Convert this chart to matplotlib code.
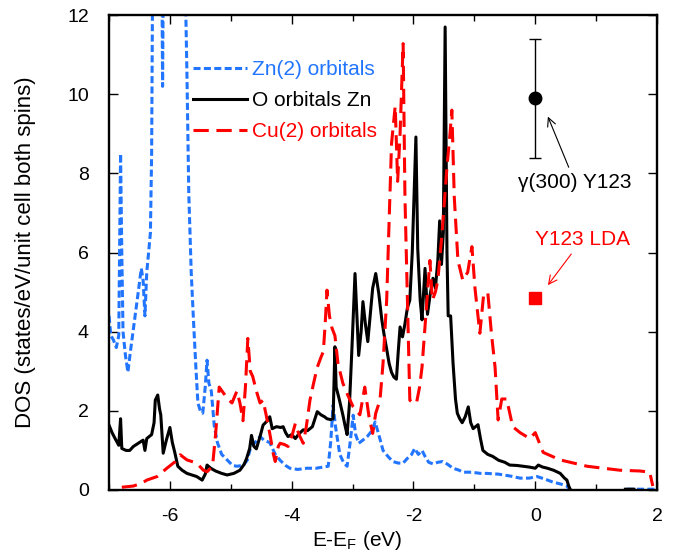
import numpy as np
from matplotlib import pyplot as plt
from matplotlib.ticker import MultipleLocator

plt.rcParams['font.family'] = ['Liberation Sans', 'DejaVu Sans']
plt.rcParams['mathtext.fontset'] = 'custom'
plt.rcParams['mathtext.rm'] = 'Liberation Sans'
plt.rcParams['mathtext.it'] = 'Liberation Sans:italic'
plt.rcParams['axes.unicode_minus'] = False

# Zn(2) orbitals (blue, short dashes)
e_zn = [-7.00, -6.97, -6.93, -6.88, -6.84, -6.82, -6.81, -6.79, -6.77, -6.73,
        -6.69, -6.64, -6.58, -6.52, -6.47, -6.44, -6.41, -6.38, -6.35, -6.32,
        -6.30, -6.28, -6.20, -6.14, -6.12, -6.10, -6.00, -5.80, -5.75, -5.72,
        -5.69, -5.65, -5.61, -5.57, -5.54, -5.50, -5.46, -5.42, -5.39, -5.36,
        -5.32, -5.27, -5.22, -5.15, -5.06, -4.97, -4.90, -4.80, -4.73, -4.67,
        -4.60, -4.52, -4.45, -4.36, -4.27, -4.19, -4.10, -4.03, -3.90, -3.75,
        -3.60, -3.48, -3.40, -3.36, -3.32, -3.28, -3.21, -3.15, -3.09, -3.04,
        -2.99, -2.95, -2.90, -2.84, -2.76, -2.68, -2.63, -2.57, -2.50, -2.42,
        -2.34, -2.25, -2.17, -2.10, -2.03, -1.98, -1.92, -1.86, -1.81, -1.75,
        -1.68, -1.60, -1.52, -1.45, -1.35, -1.25, -1.19, -1.05, -0.90, -0.80,
        -0.60, -0.40, -0.25, -0.10, 0.03, 0.15, 0.29, 0.42, 0.52, 0.57,
        0.60, 1.50, 2.00]
dos_zn = [4.40, 3.90, 3.80, 3.60, 3.90, 7.00, 8.50, 6.00, 4.00, 3.40,
          2.98, 3.60, 4.30, 5.00, 5.60, 5.30, 4.40, 5.50, 6.00, 6.50,
          8.50, 14.0, 16.0, 15.0, 10.2, 15.0, 16.0, 16.0, 13.0, 10.5,
          7.50, 5.50, 4.20, 3.00, 2.20, 2.00, 1.94, 2.60, 3.28, 2.70,
          2.50, 1.60, 1.20, 0.90, 0.76, 0.62, 0.60, 0.62, 0.75, 1.10,
          1.20, 1.35, 1.25, 1.20, 0.90, 0.75, 0.62, 0.55, 0.52, 0.55,
          0.55, 0.58, 0.60, 1.20, 2.14, 1.60, 0.90, 0.70, 0.60, 1.20,
          1.89, 1.40, 1.18, 1.25, 1.35, 1.50, 1.72, 1.40, 1.00, 0.85,
          0.72, 0.68, 0.68, 0.80, 0.90, 1.05, 0.90, 1.00, 0.85, 0.70,
          0.66, 0.70, 0.72, 0.66, 0.55, 0.50, 0.45, 0.45, 0.42, 0.42,
          0.40, 0.35, 0.30, 0.30, 0.34, 0.28, 0.20, 0.15, 0.10, 0.00,
          np.nan, 0.02, 0.02]

# O orbitals Zn (black, solid)
e_o = [-7.00, -6.95, -6.90, -6.84, -6.81, -6.79, -6.72, -6.66, -6.60, -6.54,
       -6.48, -6.44, -6.41, -6.38, -6.34, -6.30, -6.26, -6.24, -6.20, -6.17,
       -6.15, -6.11, -6.06, -6.00, -5.96, -5.92, -5.87, -5.80, -5.72, -5.64,
       -5.56, -5.50, -5.47, -5.42, -5.39, -5.33, -5.25, -5.15, -5.06, -4.95,
       -4.85, -4.78, -4.74, -4.69, -4.66, -4.62, -4.58, -4.52, -4.47, -4.40,
       -4.36, -4.32, -4.25, -4.18, -4.14, -4.10, -4.06, -4.00, -3.94, -3.88,
       -3.81, -3.74, -3.66, -3.58, -3.52, -3.46, -3.42, -3.36, -3.32, -3.29,
       -3.27, -3.22, -3.16, -3.12, -3.09, -3.05, -3.01, -2.96, -2.90, -2.86,
       -2.83, -2.79, -2.75, -2.70, -2.67, -2.62, -2.57, -2.52, -2.48, -2.44,
       -2.40, -2.36, -2.32, -2.28, -2.25, -2.22, -2.18, -2.14, -2.10, -2.06,
       -2.02, -1.99, -1.96, -1.93, -1.89, -1.86, -1.81, -1.77, -1.73, -1.68,
       -1.64, -1.60, -1.57, -1.54, -1.51, -1.48, -1.45, -1.43, -1.39, -1.35,
       -1.31, -1.28, -1.24, -1.20, -1.15, -1.10, -1.06, -1.02, -0.98, -0.94,
       -0.90, -0.86, -0.78, -0.70, -0.60, -0.50, -0.42, -0.30, -0.20, -0.10,
       0.00, 0.05, 0.12, 0.20, 0.30, 0.41, 0.48, 0.52, 0.55, 0.58,
       0.60, 1.48, 1.62]
dos_o = [1.64, 1.45, 1.30, 1.13, 1.80, 1.05, 1.00, 1.00, 1.10, 1.16,
         1.22, 1.26, 1.00, 1.30, 1.35, 1.40, 1.70, 2.27, 2.40, 2.05,
         1.90, 0.93, 1.25, 1.58, 1.20, 0.95, 0.60, 0.50, 0.42, 0.38,
         0.34, 0.28, 0.25, 0.40, 0.63, 0.55, 0.48, 0.42, 0.38, 0.42,
         0.50, 0.65, 0.80, 1.05, 1.38, 1.10, 1.04, 1.35, 1.64, 1.75,
         1.85, 1.55, 1.60, 1.58, 1.60, 1.45, 1.35, 1.40, 1.30, 1.42,
         1.52, 1.50, 1.60, 1.98, 1.90, 1.85, 1.80, 1.78, 1.80, 3.62,
         2.60, 2.30, 1.90, 1.60, 1.40, 2.20, 3.60, 5.47, 3.40, 4.00,
         4.76, 4.20, 3.75, 4.60, 5.10, 5.47, 4.97, 4.30, 3.90, 3.56,
         3.20, 2.97, 2.85, 2.80, 3.50, 4.12, 3.87, 4.20, 4.60, 4.80,
         6.00, 7.50, 8.92, 6.10, 4.80, 4.30, 5.60, 4.44, 4.90, 5.35,
         5.10, 5.80, 6.80, 5.70, 6.50, 11.70, 6.00, 4.40, 4.40, 3.20,
         2.30, 1.94, 1.80, 1.70, 1.85, 2.10, 1.70, 1.55, 1.60, 1.65,
         1.30, 1.00, 0.90, 0.85, 0.75, 0.70, 0.63, 0.62, 0.60, 0.58,
         0.55, 0.63, 0.58, 0.55, 0.50, 0.42, 0.30, 0.25, 0.10, 0.00,
         np.nan, 0.02, 0.02]

# Cu(2) orbitals (red, long dashes)
e_cu = [-6.79, -6.60, -6.45, -6.38, -6.21, -6.05, -5.91, -5.83, -5.72, -5.56,
        -5.45, -5.39, -5.30, -5.25, -5.22, -5.19, -5.12, -5.05, -4.98, -4.90,
        -4.85, -4.80, -4.76, -4.72, -4.68, -4.64, -4.58, -4.52, -4.47, -4.42,
        -4.36, -4.30, -4.27, -4.22, -4.19, -4.12, -4.06, -3.99, -3.94, -3.88,
        -3.81, -3.76, -3.70, -3.64, -3.58, -3.52, -3.48, -3.45, -3.42, -3.38,
        -3.34, -3.29, -3.24, -3.16, -3.08, -2.99, -2.88, -2.80, -2.73, -2.67,
        -2.62, -2.55, -2.50, -2.44, -2.40, -2.36, -2.30, -2.26, -2.22, -2.17,
        -2.14, -2.09, -2.06, -2.01, -1.95, -1.90, -1.86, -1.80, -1.73, -1.69,
        -1.64, -1.60, -1.53, -1.45, -1.40, -1.37, -1.33, -1.27, -1.19, -1.11,
        -1.04, -0.99, -0.91, -0.85, -0.78, -0.72, -0.66, -0.61, -0.55, -0.47,
        -0.37, -0.25, -0.09, 0.00, 0.13, 0.41, 0.85, 1.39, 1.72, 1.88,
        1.93]
dos_cu = [0.07, 0.10, 0.18, 0.25, 0.34, 0.55, 0.72, 0.89, 0.76, 0.68,
          0.50, 0.46, 0.60, 1.40, 2.00, 2.60, 2.45, 2.30, 2.20, 2.50,
          2.20, 1.75, 2.60, 3.83, 3.00, 2.87, 2.50, 2.20, 2.27, 1.90,
          1.43, 0.90, 0.72, 1.10, 1.18, 1.15, 1.10, 1.40, 1.68, 1.40,
          1.18, 1.60, 2.27, 2.70, 3.10, 3.35, 3.50, 4.20, 5.05, 4.40,
          4.10, 3.90, 3.20, 2.70, 2.40, 2.10, 1.90, 2.60, 1.85, 1.43,
          1.94, 2.27, 3.20, 4.80, 6.80, 8.76, 9.70, 7.80, 9.00, 11.28,
          7.40, 4.20, 2.27, 2.20, 2.20, 2.60, 3.10, 4.35, 5.80, 4.80,
          5.00, 5.30, 6.50, 8.16, 9.00, 9.60, 7.40, 5.80, 5.30, 5.50,
          6.15, 5.10, 3.96, 4.90, 5.00, 3.96, 3.10, 1.77, 2.30, 2.30,
          1.60, 1.45, 1.30, 1.45, 0.95, 0.76, 0.60, 0.50, 0.48, 0.45,
          0.10]

# experimental / LDA points at E_F
gamma_e = [0.0]
gamma_val = [9.9]
gamma_err = [1.5]
lda_e = [0.0]
lda_val = [4.84]

blue = '#2275ff'
red = '#ff0000'

fig = plt.figure(figsize=(6.83, 5.6), dpi=100)
ax = fig.add_axes([0.1596, 0.125, 0.8024, 0.848])

ax.plot(e_zn, dos_zn, color=blue, lw=2.2, dashes=(2.3, 1.1), label='Zn(2) orbitals')
ax.plot(e_o, dos_o, color='k', lw=2.2, label='O orbitals Zn')
ax.plot(e_cu, dos_cu, color=red, lw=2.2, dashes=(5, 2.5), label='Cu(2) orbitals')

ax.errorbar(gamma_e, gamma_val, yerr=gamma_err, fmt='o', color='k', ms=9,
            capsize=4, elinewidth=1, capthick=1)
ax.plot(lda_e, lda_val, 's', color=red, ms=9)

ax.annotate('γ(300) Y123', xy=(0.19, 9.5), xytext=(0.65, 7.78),
            ha='center', va='center', fontsize=15,
            arrowprops=dict(arrowstyle='->', color='k', lw=0.8))
ax.annotate('Y123 LDA', xy=(0.18, 5.12), xytext=(0.77, 6.33),
            ha='center', va='center', fontsize=15, color=red,
            arrowprops=dict(arrowstyle='->', color=red, lw=0.8))

ax.set_xlim(-7, 2)
ax.set_ylim(0, 12)
ax.xaxis.set_major_locator(MultipleLocator(2))
ax.xaxis.set_minor_locator(MultipleLocator(1))
ax.yaxis.set_major_locator(MultipleLocator(2))
ax.tick_params(which='both', direction='in', top=True, right=True, labelsize=14)
ax.tick_params(which='major', length=6.5, width=1)
ax.tick_params(which='minor', length=4, width=1)
ax.tick_params(axis='x', pad=13)
ax.tick_params(axis='y', pad=14.5)
for s in ax.spines.values():
    s.set_linewidth(1.7)

ax.set_xlabel('E-E$_\\mathrm{F}$ (eV)', fontsize=15)
ax.xaxis.set_label_coords(0.4526, -0.082)
ax.set_ylabel('DOS (states/eV/unit cell both spins)', fontsize=16)
ax.yaxis.set_label_coords(-0.133, 0.5)

leg = ax.legend(loc='upper left', bbox_to_anchor=(0.153, 0.905), frameon=False,
                fontsize=15, handlelength=2.6, handletextpad=0.25,
                labelspacing=0.58, borderpad=0, borderaxespad=0,
                labelcolor='linecolor')

fig.savefig('out.png', dpi=100)
